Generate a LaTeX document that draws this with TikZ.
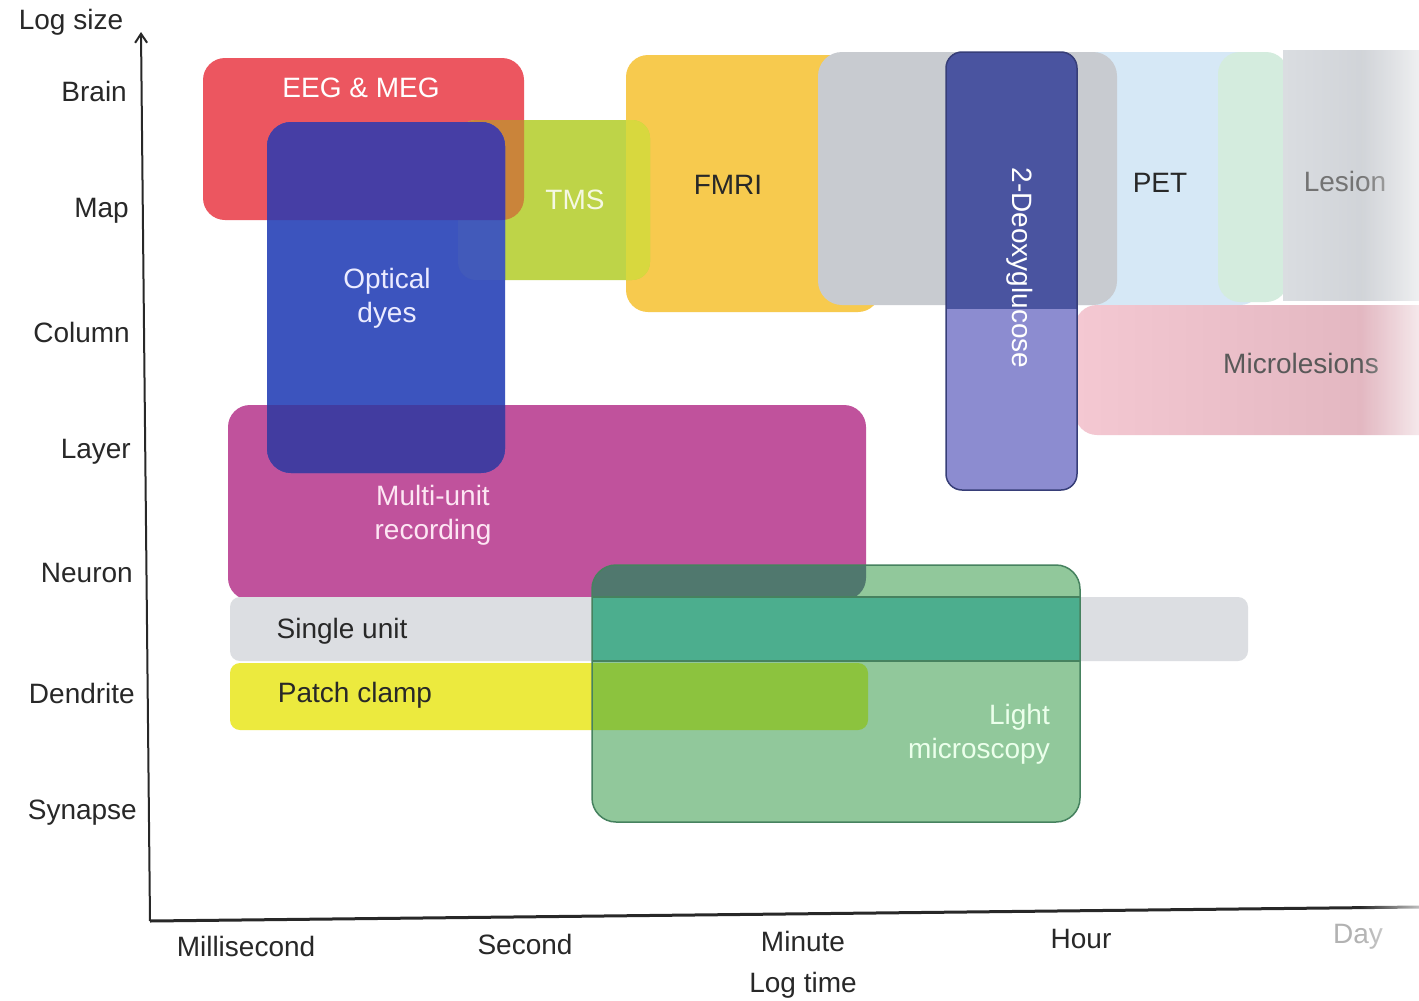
\documentclass[tikz,border=0pt]{standalone}
\usepackage{fontspec}
\setmainfont{Liberation Sans}
\usetikzlibrary{arrows.meta,fadings}
\definecolor{eegc}{RGB}{236,86,96}
\definecolor{tmsc}{RGB}{190,212,72}
\definecolor{tmseeg}{RGB}{202,132,58}
\definecolor{optc}{RGB}{60,84,190}
\definecolor{opteeg}{RGB}{70,62,165}
\definecolor{optmu}{RGB}{66,60,160}
\definecolor{opttms}{RGB}{66,90,186}
\definecolor{fmric}{RGB}{247,202,78}
\definecolor{fmritms}{RGB}{216,216,62}
\definecolor{grayc}{RGB}{200,203,208}
\definecolor{dgtop}{RGB}{74,84,160}
\definecolor{dgbot}{RGB}{140,140,208}
\definecolor{dgborder}{RGB}{55,62,120}
\definecolor{petc}{RGB}{214,232,246}
\definecolor{greenstrip}{RGB}{212,236,222}
\definecolor{lesionl}{RGB}{218,221,225}
\definecolor{lesionr}{RGB}{202,205,210}
\definecolor{microc}{RGB}{244,200,210}
\definecolor{micror}{RGB}{222,178,188}
\definecolor{muc}{RGB}{192,82,156}
\definecolor{suc}{RGB}{220,222,226}
\definecolor{pcc}{RGB}{236,234,62}
\definecolor{lmc}{RGB}{145,200,155}
\definecolor{lmmu}{RGB}{80,120,110}
\definecolor{lmsu}{RGB}{76,174,142}
\definecolor{lmpc}{RGB}{140,195,62}
\definecolor{lmborder}{RGB}{70,130,95}
\definecolor{txt}{RGB}{40,40,40}
\begin{document}
\begin{tikzpicture}[x=1pt,y=-1pt,
  lab/.style={font=\fontsize{28}{34}\selectfont, inner sep=0pt, text=txt},
  wlab/.style={lab, text=white, align=center},
  axline/.style={draw=txt}]
\useasboundingbox[fill=white] (0,0) rectangle (1419,1001);

% ---- right-hand group (top) ----
\fill[petc, rounded corners=22] (1000,52) rectangle (1262,305);
\fill[greenstrip, rounded corners=22] (1218,52) rectangle (1288,302);
\shade[left color=lesionl, right color=lesionr] (1283,50) rectangle (1419,300);
\fill[fmric, rounded corners=22] (626,55) rectangle (880,312);
\fill[grayc, rounded corners=24] (818,52) rectangle (1117,305);
\shade[rounded corners=22, left color=microc, right color=micror] (1075,305) rectangle (1450,435);
% 2-Deoxyglucose
\fill[dgbot, rounded corners=16] (946,52) rectangle (1077,490);
\begin{scope}
  \clip (940,40) rectangle (1085,308);
  \fill[dgtop, rounded corners=16] (946,52) rectangle (1077,490);
\end{scope}
\draw[dgborder, line width=1.5pt, rounded corners=16] (946,52) rectangle (1077,490);

% ---- left-hand group (top) ----
\fill[eegc, rounded corners=22] (203,58) rectangle (524,220);
\fill[tmsc, rounded corners=18] (458,120) rectangle (650,280);
\begin{scope}
  \clip[rounded corners=18] (458,120) rectangle (650,280);
  \fill[tmseeg, rounded corners=22] (203,58) rectangle (524,220);
  \fill[fmritms, rounded corners=22] (626,55) rectangle (880,312);
\end{scope}
\fill[muc, rounded corners=22] (228,405) rectangle (866,600);
\fill[optc, rounded corners=24] (267,122) rectangle (505,473);
\begin{scope}
  \clip[rounded corners=24] (267,122) rectangle (505,473);
  \fill[opttms, rounded corners=18] (458,120) rectangle (650,280);
  \fill[opteeg, rounded corners=22] (203,58) rectangle (524,220);
  \fill[optmu, rounded corners=22] (228,405) rectangle (866,600);
\end{scope}

% ---- bottom group ----
\fill[suc, rounded corners=10] (230,597) rectangle (1248,661);
\fill[pcc, rounded corners=10] (230,663) rectangle (868,730);
\fill[lmc, rounded corners=24] (592,565) rectangle (1080,822);
\begin{scope}
  \clip[rounded corners=24] (592,565) rectangle (1080,822);
  \fill[lmmu, rounded corners=22] (228,405) rectangle (866,600);
  \fill[lmsu, rounded corners=10] (230,597) rectangle (1248,661);
  \fill[lmpc, rounded corners=10] (230,663) rectangle (868,730);
  \draw[lmborder, line width=1.5pt] (592,597) -- (1080,597) (592,661) -- (1080,661);
\end{scope}
\draw[lmborder, line width=1.5pt, rounded corners=24] (592,565) rectangle (1080,822);

% ---- axes ----
\coordinate (origin) at (150,921);
\coordinate (ytop) at (141,32);
\coordinate (xend) at (1419,907);
\draw[axline, line width=2pt, -{Straight Barb[length=9pt,width=12pt,line width=2pt]}] (origin) -- (ytop);
\draw[axline, line width=3pt] (origin) -- (xend);

% y-axis labels
\node[lab] (logsize) at (71,22) {Log size};
\node[lab, anchor=east] (brain) at (127,91) {Brain};
\node[lab, anchor=east] (map) at (129,211) {Map};
\node[lab, anchor=east] (column) at (130,332) {Column};
\node[lab, anchor=east] (layer) at (131,452) {Layer};
\node[lab, anchor=east] (neuron) at (133,573) {Neuron};
\node[lab, anchor=east] (dendrite) at (135,693) {Dendrite};
\node[lab, anchor=east] (synapse) at (137,813) {Synapse};

% x-axis labels
\node[lab] (ms) at (246,946) {Millisecond};
\node[lab] (sec) at (525,944) {Second};
\node[lab] (min) at (803,941) {Minute};
\node[lab] (hour) at (1081,939) {Hour};
\node[lab, text=black!30] (day) at (1358,937) {Day};
\node[lab] (logtime) at (803,985) {Log time};

% box labels
\node[wlab] (eeg) at (361,88) {EEG \& MEG};
\node[wlab, text opacity=0.85] (tms) at (575,200) {TMS};
\node[wlab, text=white!92!blue] (opt) at (387,298) {Optical\\dyes};
\node[lab] (fmri) at (728,185) {FMRI};
\node[wlab, rotate=-90] (dg) at (1020,268) {2-Deoxyglucose};
\node[lab] (pet) at (1160,183) {PET};
\node[lab, text=black!55] (lesion) at (1345,181) {Lesion};
\node[lab, text=black!65] (micro) at (1301,363) {Microlesions};
\node[wlab, text=white!90!magenta] (mu) at (433,515) {Multi-unit\\recording};
\node[lab] (su) at (342,631) {Single unit};
\node[lab] (pc) at (355,695) {Patch clamp};
\node[wlab, align=right, anchor=east, text=white!92!green] (lm) at (1050,734) {Light\\microscopy};

% scan haze at right edge
\fill[white, path fading=west, fill opacity=0.7] (1360,0) rectangle (1419,1001);
\end{tikzpicture}
\end{document}
